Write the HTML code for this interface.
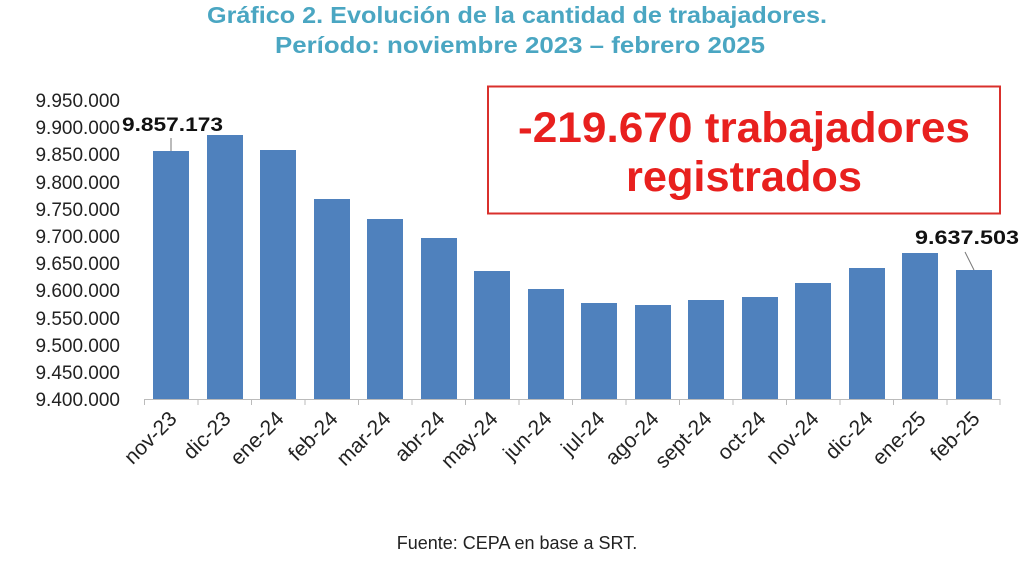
<!DOCTYPE html>
<html><head><meta charset="utf-8"><style>body{margin:0;background:#fff}svg{display:block}</style></head><body>
<svg width="1024" height="570" xmlns="http://www.w3.org/2000/svg" font-family="Liberation Sans, sans-serif">
<text x="517" y="23" text-anchor="middle" font-size="23" font-weight="bold" fill="#4aa6c2" textLength="620" lengthAdjust="spacingAndGlyphs">Gráfico 2. Evolución de la cantidad de trabajadores.</text>
<text x="520" y="53" text-anchor="middle" font-size="23" font-weight="bold" fill="#4aa6c2" textLength="490" lengthAdjust="spacingAndGlyphs">Período: noviembre 2023 – febrero 2025</text>
<g font-size="19" fill="#222" text-anchor="end">
<text x="120" y="107">9.950.000</text><text x="120" y="134">9.900.000</text><text x="120" y="161">9.850.000</text><text x="120" y="189">9.800.000</text><text x="120" y="216">9.750.000</text><text x="120" y="243">9.700.000</text><text x="120" y="270">9.650.000</text><text x="120" y="297">9.600.000</text><text x="120" y="325">9.550.000</text><text x="120" y="352">9.500.000</text><text x="120" y="379">9.450.000</text><text x="120" y="406">9.400.000</text>
</g>
<g fill="#4f81bd">
<rect x="153" y="151" width="36" height="248"/><rect x="207" y="135" width="36" height="264"/><rect x="260" y="150" width="36" height="249"/><rect x="314" y="199" width="36" height="200"/><rect x="367" y="219" width="36" height="180"/><rect x="421" y="238" width="36" height="161"/><rect x="474" y="271" width="36" height="128"/><rect x="528" y="289" width="36" height="110"/><rect x="581" y="303" width="36" height="96"/><rect x="635" y="305" width="36" height="94"/><rect x="688" y="300" width="36" height="99"/><rect x="742" y="297" width="36" height="102"/><rect x="795" y="283" width="36" height="116"/><rect x="849" y="268" width="36" height="131"/><rect x="902" y="253" width="36" height="146"/><rect x="956" y="270" width="36" height="129"/>
</g>
<g stroke="#bbb" stroke-width="1">
<line x1="144" y1="399.5" x2="1000" y2="399.5"/>
<path d="M144.5 399v6M198 399v6M251.5 399v6M305 399v6M358.5 399v6M412 399v6M465.5 399v6M519 399v6M572.5 399v6M626 399v6M679.5 399v6M733 399v6M786.5 399v6M840 399v6M893.5 399v6M947 399v6M1000 399v6"/>
</g>
<line x1="171" y1="138" x2="171" y2="151" stroke="#777"/>
<line x1="965" y1="252" x2="974" y2="270" stroke="#777"/>
<g font-size="19" font-weight="bold" fill="#111">
<text x="122" y="131" textLength="101" lengthAdjust="spacingAndGlyphs">9.857.173</text>
<text x="915" y="244" textLength="104" lengthAdjust="spacingAndGlyphs">9.637.503</text>
</g>
<g font-size="21" fill="#222" text-anchor="end">
<text transform="translate(178,420) rotate(-45)">nov-23</text>
<text transform="translate(232,420) rotate(-45)">dic-23</text>
<text transform="translate(285,420) rotate(-45)">ene-24</text>
<text transform="translate(339,420) rotate(-45)">feb-24</text>
<text transform="translate(392,420) rotate(-45)">mar-24</text>
<text transform="translate(446,420) rotate(-45)">abr-24</text>
<text transform="translate(499,420) rotate(-45)">may-24</text>
<text transform="translate(553,420) rotate(-45)">jun-24</text>
<text transform="translate(606,420) rotate(-45)">jul-24</text>
<text transform="translate(660,420) rotate(-45)">ago-24</text>
<text transform="translate(713,420) rotate(-45)">sept-24</text>
<text transform="translate(767,420) rotate(-45)">oct-24</text>
<text transform="translate(820,420) rotate(-45)">nov-24</text>
<text transform="translate(874,420) rotate(-45)">dic-24</text>
<text transform="translate(927,420) rotate(-45)">ene-25</text>
<text transform="translate(981,420) rotate(-45)">feb-25</text>
</g>
<rect x="488" y="86.5" width="512" height="127" fill="#fff" stroke="#d9302c" stroke-width="2"/>
<text x="744" y="142" text-anchor="middle" font-size="43" font-weight="bold" fill="#e8201e" textLength="452" lengthAdjust="spacingAndGlyphs">-219.670 trabajadores</text>
<text x="744" y="191" text-anchor="middle" font-size="43" font-weight="bold" fill="#e8201e" textLength="236" lengthAdjust="spacingAndGlyphs">registrados</text>
<text x="517" y="549" text-anchor="middle" font-size="18" fill="#222">Fuente: CEPA en base a SRT.</text>
</svg>
</body></html>
